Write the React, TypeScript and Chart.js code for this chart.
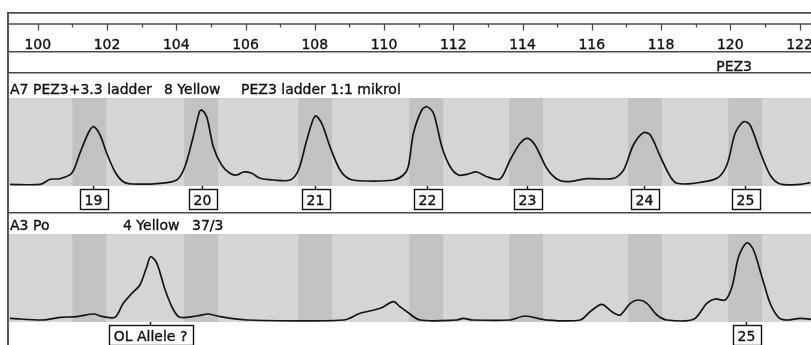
import { useEffect, useRef } from "react";
import { Chart, registerables } from "chart.js";

Chart.register(...registerables);

// Fragment size axis (bp)
const SIZE_MIN = 99.17;
const SIZE_MAX = 122.33;
const majorTicks = [100, 102, 104, 106, 108, 110, 112, 114, 116, 118, 120, 122];
const minorTicks = [101, 103, 105, 107, 109, 111, 113, 115, 117, 119, 121];
const locusName = "PEZ3";
const locusLabelAt = 120.11;

// Allele bins of the PEZ3 ladder
const binCenters = [101.49, 104.72, 108.01, 111.22, 114.1, 117.54, 120.43];
const binWidth = 0.98;

// Lane 1: allelic ladder
const lane1Title = ["A7 PEZ3+3.3 ladder", "8 Yellow", "PEZ3 ladder 1:1 mikrol"];
const lane1Sizes = [
  99.2, 100.07, 100.36, 100.64, 100.98, 101.22, 101.46, 101.61, 101.8, 101.99,
  102.23, 102.47, 102.76, 103.53, 104.01, 104.25, 104.49, 104.67, 104.74, 104.88,
  105.07, 105.31, 105.55, 105.75, 105.94, 106.18, 106.42, 106.81, 107.29, 107.53,
  107.77, 108.01, 108.2, 108.44, 108.73, 109.02, 109.5, 110.27, 110.56, 110.7,
  110.85, 111.09, 111.24, 111.43, 111.67, 111.91, 112.15, 112.39, 112.68, 112.97,
  113.35, 113.64, 113.93, 114.14, 114.36, 114.7, 114.99, 115.28, 115.86, 116.63,
  116.92, 117.2, 117.49, 117.69, 117.98, 118.27, 118.46, 118.94, 119.61, 119.9,
  120.14, 120.38, 120.57, 120.86, 121.15, 121.44, 122.02, 122.31,
];
const lane1Signal = [
  1.7, 1.7, 6.7, 7.3, 12.7, 33, 53, 59.3, 51, 33,
  14.3, 4.3, 2, 2.7, 6, 19.3, 49.3, 74.3, 76, 69.3,
  39.3, 21, 12.7, 11, 14, 12.7, 7.7, 6, 6, 16,
  46, 70, 62.7, 39.3, 16, 6.7, 5, 6, 11, 19.3,
  52.7, 76, 79.3, 72.7, 39.3, 19.3, 11, 11.7, 14, 9.3,
  7, 26, 42.7, 47.7, 41, 17.7, 7, 4.3, 7.3, 7.7,
  16, 41, 53.3, 51, 29.3, 9.3, 2.7, 2.7, 7.7, 21,
  52.7, 64.3, 61, 34.3, 11, 2, 1.7, 3.3,
];
const lane1CallSizes = [101.6, 104.74, 108.01, 111.24, 114.14, 117.5, 120.43];
const lane1CallLabels = ["19", "20", "21", "22", "23", "24", "25"];

// Lane 2: sample
const lane2Title = ["A3 Po", "4 Yellow", "37/3"];
const lane2Sizes = [
  99.2, 100.16, 100.64, 101.13, 101.61, 101.89, 102.23, 102.47, 102.72, 102.95,
  103.15, 103.26, 103.44, 103.68, 103.92, 104.11, 104.59, 104.93, 105.27, 106.04,
  108.83, 109.31, 109.89, 110.27, 110.46, 110.66, 111.04, 112.1, 112.29, 112.54,
  113.64, 114.07, 114.7, 115.66, 115.95, 116.29, 116.58, 116.82, 117.11, 117.35,
  117.59, 117.88, 118.17, 118.94, 119.32, 119.56, 119.85, 120.05, 120.24, 120.48,
  120.67, 120.91, 121.15, 121.39, 121.63, 122.02, 122.33,
];
const lane2Signal = [
  3.7, 2, 4.7, 5.3, 8, 5.3, 4.7, 18.7, 28.7, 37,
  55.3, 65.3, 58.7, 32, 12, 4.7, 6, 8, 5.3, 2,
  2, 8.7, 13.7, 20.3, 15.3, 10.3, 2, 2, 3.7, 2,
  2, 6, 2, 2, 10.3, 17.7, 10.3, 7, 18.7, 22,
  18.7, 7, 2, 2.7, 18.7, 23, 22, 35.3, 65.3, 79.3,
  72, 45.3, 18.7, 4.7, 2, 3.7, 2.7,
];
const lane2CallSizes = [103.24, 120.45];
const lane2CallLabels = ["OL Allele ?", "25"];

// Layout (canvas pixels)
const W = 811;
const H = 345;
const PLOT_LEFT = 9;
const LANE1_BASE = 186;
const LANE2_BASE = 322;
const BAND_TOP = 88; // signal units, 1 unit = 1 px
const FONT = "14px 'DejaVu Sans', Verdana, sans-serif";
const BAND_COLOR = "#d5d5d5";
const BIN_COLOR = "#c2c2c2";
const RULE_COLOR = "#4a4a4a";
const INK = "#111";

const toPoints = (xs: number[], ys: number[]) => xs.map((x, i) => ({ x, y: ys[i] }));

const hline = (ctx: CanvasRenderingContext2D, y: number, x0: number, x1: number, w: number) => {
  ctx.beginPath();
  ctx.lineWidth = w;
  ctx.moveTo(x0, y);
  ctx.lineTo(x1, y);
  ctx.stroke();
};

// Text with a hairline outline so it reads as heavy as a screen bitmap font
const inkText = (ctx: CanvasRenderingContext2D, s: string, x: number, y: number) => {
  ctx.fillText(s, x, y);
  ctx.lineWidth = 0.35;
  ctx.strokeStyle = INK;
  ctx.strokeText(s, x, y);
};

const panelsPlugin = {
  id: "panels",
  beforeDatasetsDraw(chart: any) {
    const { ctx, scales } = chart;
    const xs = scales.x;
    ctx.save();
    // lane backgrounds and bins
    for (const id of ["y1", "y2"]) {
      const ys = scales[id];
      const top = ys.getPixelForValue(BAND_TOP);
      const bot = ys.getPixelForValue(0);
      ctx.fillStyle = BAND_COLOR;
      ctx.fillRect(PLOT_LEFT, top, W - PLOT_LEFT, bot - top);
      ctx.fillStyle = BIN_COLOR;
      for (const c of binCenters) {
        const a = xs.getPixelForValue(c - binWidth / 2);
        const b = xs.getPixelForValue(c + binWidth / 2);
        ctx.fillRect(a, top, b - a, bot - top);
      }
    }
    // frame and size ruler
    ctx.strokeStyle = RULE_COLOR;
    hline(ctx, 12.8, 7, W, 1.8);
    ctx.beginPath();
    ctx.lineWidth = 1.8;
    ctx.moveTo(8, 12);
    ctx.lineTo(8, H);
    ctx.stroke();
    hline(ctx, 24, 8, W, 1.3);
    hline(ctx, 51.7, 8, W, 1.5);
    hline(ctx, 72.7, 8, W, 1.5);
    hline(ctx, 212.7, 8, W, 1.5);
    ctx.lineWidth = 1.3;
    for (const t of majorTicks) {
      const px = Math.round(xs.getPixelForValue(t)) + 0.5;
      ctx.beginPath();
      ctx.moveTo(px, 24);
      ctx.lineTo(px, 30.5);
      ctx.stroke();
    }
    for (const t of minorTicks) {
      const px = Math.round(xs.getPixelForValue(t)) + 0.5;
      ctx.beginPath();
      ctx.moveTo(px, 24);
      ctx.lineTo(px, 27.5);
      ctx.stroke();
    }
    ctx.fillStyle = INK;
    ctx.font = FONT;
    ctx.textAlign = "center";
    ctx.textBaseline = "alphabetic";
    for (const t of majorTicks) {
      inkText(ctx, String(t), xs.getPixelForValue(t), 48.5);
    }
    inkText(ctx, locusName, xs.getPixelForValue(locusLabelAt), 70.5);
    ctx.restore();
  },
  afterDatasetsDraw(chart: any) {
    const { ctx, scales } = chart;
    const xs = scales.x;
    ctx.save();
    ctx.font = FONT;
    ctx.fillStyle = INK;
    ctx.textBaseline = "alphabetic";
    ctx.textAlign = "left";
    const titleX = [10, 164, 241];
    lane1Title.forEach((t, i) => inkText(ctx, t, titleX[i], 94));
    const titleX2 = [10, 123, 192];
    lane2Title.forEach((t, i) => inkText(ctx, t, titleX2[i], 230));

    const drawCalls = (sizes: number[], labels: string[], ys: any) => {
      const base = ys.getPixelForValue(0);
      sizes.forEach((s, i) => {
        const cx = Math.round(xs.getPixelForValue(s)) + 0.5;
        const tw = ctx.measureText(labels[i]).width;
        const bw = Math.round(tw + 10);
        const bx = Math.round(cx - bw / 2) + 0.5;
        const by = Math.round(base + 3) + 0.5;
        const bh = 20;
        ctx.strokeStyle = INK;
        ctx.lineWidth = 1.4;
        ctx.beginPath();
        ctx.moveTo(cx, base);
        ctx.lineTo(cx, by);
        ctx.stroke();
        ctx.fillStyle = "#fff";
        ctx.fillRect(bx, by, bw, bh);
        ctx.strokeRect(bx, by, bw, bh);
        ctx.fillStyle = INK;
        ctx.textAlign = "center";
        inkText(ctx, labels[i], cx, by + 15.5);
      });
    };
    drawCalls(lane1CallSizes, lane1CallLabels, scales.y1);
    drawCalls(lane2CallSizes, lane2CallLabels, scales.y2);
    ctx.restore();
  },
};

export default function App() {
  const ref = useRef<HTMLCanvasElement | null>(null);
  useEffect(() => {
    if (!ref.current) return;
    const lineStyle = {
      borderColor: "#151515",
      borderWidth: 1.7,
      pointRadius: 0,
      fill: false,
      tension: 0.3,
    };
    const chart = new Chart(ref.current, {
      type: "line",
      data: {
        datasets: [
          { label: "lane1", data: toPoints(lane1Sizes, lane1Signal), yAxisID: "y1", ...lineStyle },
          { label: "lane2", data: toPoints(lane2Sizes, lane2Signal), yAxisID: "y2", ...lineStyle },
        ],
      },
      options: {
        animation: false,
        responsive: false,
        maintainAspectRatio: false,
        layout: { padding: { left: PLOT_LEFT, right: 0, top: 0, bottom: 0 } },
        plugins: { legend: { display: false }, tooltip: { enabled: false } },
        scales: {
          x: { type: "linear", min: SIZE_MIN, max: SIZE_MAX, display: false },
          y1: { type: "linear", min: LANE1_BASE - H, max: LANE1_BASE, display: false },
          y2: { type: "linear", min: LANE2_BASE - H, max: LANE2_BASE, display: false },
        },
      },
      plugins: [panelsPlugin],
    });
    return () => chart.destroy();
  }, []);
  return (
    <div style={{ position: "fixed", left: 0, top: 0, width: W, height: H, background: "#fff" }}>
      <canvas ref={ref} width={W} height={H} style={{ display: "block", width: W, height: H }} />
    </div>
  );
}
